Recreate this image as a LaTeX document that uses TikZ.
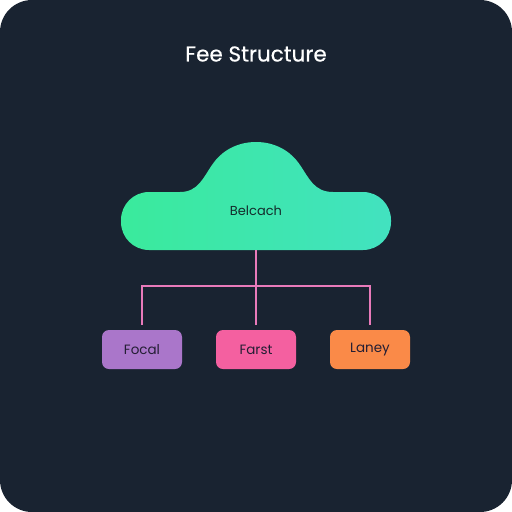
\documentclass[tikz,border=0pt]{standalone}
\usepackage{fontspec}
\usetikzlibrary{calc}
\setmainfont{Poppins}
\definecolor{bg}{RGB}{25,35,49}
\definecolor{gleft}{RGB}{58,234,156}
\definecolor{gright}{RGB}{66,226,192}
\definecolor{linkc}{RGB}{232,122,186}
\definecolor{cpurple}{RGB}{170,118,202}
\definecolor{cpink}{RGB}{244,96,160}
\definecolor{corange}{RGB}{250,138,72}
\definecolor{ink}{RGB}{36,30,52}
\definecolor{cloudink}{RGB}{20,44,44}
\begin{document}
\begin{tikzpicture}[x=1pt,y=-1pt,
  leaf/.style={rounded corners=7pt, minimum width=80pt, minimum height=39pt, inner sep=0pt, font=\fontsize{13.5}{15}\selectfont, text=ink},
  link/.style={draw=linkc, line width=1.6pt}]
\useasboundingbox (0,0) rectangle (512,512);
\fill[white] (0,0) rectangle (512,512);
\fill[bg, rounded corners=32pt] (0,0) rectangle (512,512);
\node[text=white, font=\fontsize{21.5}{24}\selectfont\addfontfeature{FakeBold=0.4}] (title) at (256,54) {Fee Structure};
\shade[left color=gleft, right color=gright]
  (180,192) -- (149,192) .. controls (133.5,192) and (121,204.5) .. (121,220)
  -- (121,222) .. controls (121,237.5) and (133.5,250) .. (149,250)
  -- (363,250) .. controls (378.5,250) and (391,237.5) .. (391,222)
  -- (391,220) .. controls (391,204.5) and (378.5,192) .. (363,192)
  -- (333,192) .. controls (314,192) and (309,178) .. (300,165)
  .. controls (290,150) and (274,142) .. (256,142)
  .. controls (238,142) and (222,150) .. (212,165)
  .. controls (203,178) and (198,192) .. (180,192) -- cycle;
\node[text=cloudink, font=\fontsize{13}{15}\selectfont] (cloud) at (256,211) {Belcach};
\coordinate (cb) at (256,250);
\node[leaf, fill=cpurple] (b1) at (142,349.5) {Focal};
\node[leaf, fill=cpink] (b2) at (256,349.5) {Farst};
\node[leaf, fill=corange] (b3) at (370,349.5) {Laney};
\coordinate (j) at (256,286);
\coordinate (e1) at ($(b1.north)+(0,-5)$);
\coordinate (e2) at ($(b2.north)+(0,-5)$);
\coordinate (e3) at ($(b3.north)+(0,-5)$);
\draw[link] (cb) -- (j);
\draw[link] (j) -- (e2);
\draw[link] (e1) |- (j) -| (e3);
\end{tikzpicture}
\end{document}
